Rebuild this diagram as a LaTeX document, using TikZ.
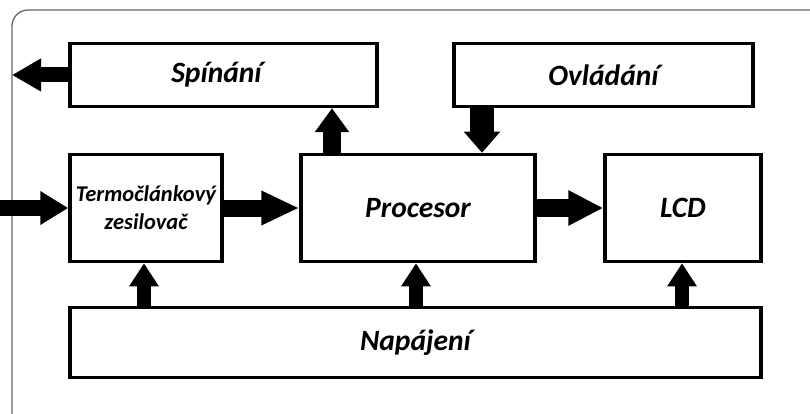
\documentclass[tikz,border=0pt]{standalone}
\usepackage{fontspec}
\setmainfont{Carlito}
\usetikzlibrary{arrows.meta}
\tikzset{
  blk/.style={draw=black, line width=3.5pt, fill=white, inner sep=0pt,
    font=\fontsize{29.5}{31}\selectfont\bfseries\itshape, align=center},
  fatarrow/.style n args={3}{draw=black, line width=#1,
    -{Triangle[length=#2,width=#3]}},
  frame/.style={draw=black!60, line width=1.3pt, rounded corners=16pt}
}
\begin{document}
\begin{tikzpicture}[x=1pt,y=-1pt]
\useasboundingbox (0,0) rectangle (810,414);
\clip (0,0) rectangle (810,414);
% outer frame
\draw[frame] (12,10) rectangle (840,440);

% blocks
\node[blk, minimum width=307pt, minimum height=63pt] (spin) at (223.5,75) {Spínání\hspace*{14pt}};
\node[blk, minimum width=299pt, minimum height=63pt] (ovl) at (603.5,75) {Ovládání};
\node[blk, minimum width=152pt, minimum height=107pt,
      font=\fontsize{22.5}{28}\selectfont\bfseries\itshape] (termo) at (146,208) {Termočlánkový\\zesilovač};
\node[blk, minimum width=234pt, minimum height=107pt] (proc) at (418,208) {Procesor};
\node[blk, minimum width=156pt, minimum height=107pt] (lcd) at (683,208) {LCD};
\node[blk, minimum width=691pt, minimum height=70pt] (nap) at (415.5,342.5) {Napájení};

% free ends and arrow columns
\coordinate (outL) at (12,75);
\coordinate (inL) at (0,208);
\coordinate (xs) at (332,0);
\coordinate (xo) at (482,0);
\coordinate (xt) at (144,0);
\coordinate (xp) at (416,0);
\coordinate (xl) at (682,0);

% connectors
\draw[fatarrow={15pt}{29pt}{31pt}] (spin.west) -- (outL);
\draw[fatarrow={16pt}{28pt}{32pt}] (inL) -- (termo.west);
\draw[fatarrow={17pt}{38pt}{32pt}] (termo.east) -- (proc.west);
\draw[fatarrow={18pt}{35pt}{33pt}] (proc.east) -- (lcd.west);
\draw[fatarrow={18pt}{24pt}{33pt}] (proc.north -| xs) -- (spin.south -| xs);
\draw[fatarrow={24pt}{21pt}{35pt}] (ovl.south -| xo) -- (proc.north -| xo);
\draw[fatarrow={14pt}{23pt}{28pt}] (nap.north -| xt) -- (termo.south -| xt);
\draw[fatarrow={14pt}{23pt}{28pt}] (nap.north -| xp) -- (proc.south -| xp);
\draw[fatarrow={14pt}{23pt}{28pt}] (nap.north -| xl) -- (lcd.south -| xl);
\end{tikzpicture}
\end{document}
